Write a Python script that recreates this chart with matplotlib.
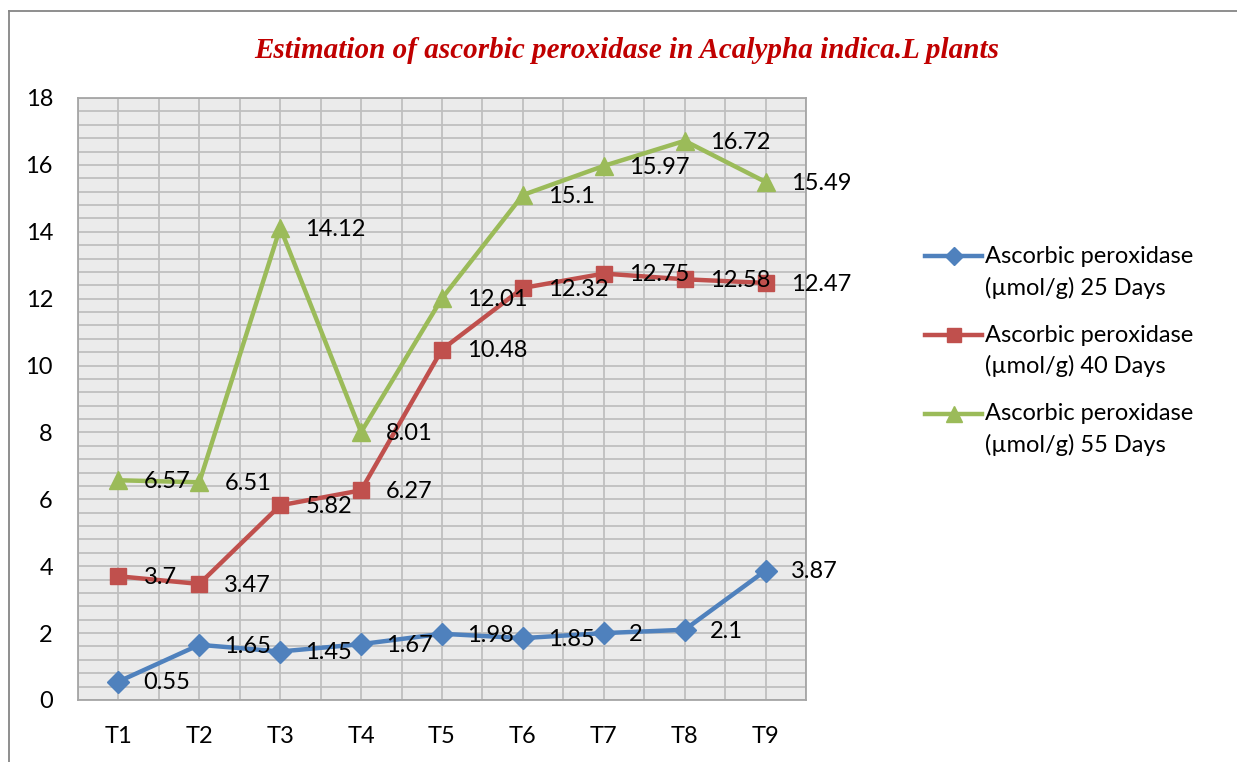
import matplotlib
matplotlib.use("Agg")
import matplotlib.pyplot as plt
from matplotlib.ticker import MultipleLocator
from matplotlib.lines import Line2D
from matplotlib.legend_handler import HandlerLine2D

categories = ["T1", "T2", "T3", "T4", "T5", "T6", "T7", "T8", "T9"]
days25 = [0.55, 1.65, 1.45, 1.67, 1.98, 1.85, 2, 2.1, 3.87]
days40 = [3.7, 3.47, 5.82, 6.27, 10.48, 12.32, 12.75, 12.58, 12.47]
days55 = [6.57, 6.51, 14.12, 8.01, 12.01, 15.1, 15.97, 16.72, 15.49]
series_labels = ["Ascorbic peroxidase\n(\u00b5mol/g) 25 Days",
                 "Ascorbic peroxidase\n(\u00b5mol/g) 40 Days",
                 "Ascorbic peroxidase\n(\u00b5mol/g) 55 Days"]
yticks = [0, 2, 4, 6, 8, 10, 12, 14, 16, 18]

plt.rcParams['font.family'] = ['Lato', 'DejaVu Sans']

W, H = 1237, 762
fig = plt.figure(figsize=(W / 100, H / 100), dpi=100)
ax = fig.add_axes([78 / W, 1 - 700 / H, (806 - 78) / W, (700 - 98) / H])
ax.set_facecolor("#EBEBEB")

x = list(range(1, len(categories) + 1))
styles = [("#4F81BD", "D", 11), ("#C0504D", "s", 12), ("#9BBB59", "^", 13)]
for vals, lab, (col, mk, ms) in zip([days25, days40, days55], series_labels, styles):
    ax.plot(x, vals, color=col, lw=3.2, marker=mk, ms=ms, label=lab, zorder=3,
            solid_capstyle='round')
    for xi, v in zip(x, vals):
        ax.annotate(f"{v:g}", (xi, v), xytext=(18, -1), textcoords="offset points",
                    ha="left", va="center", fontsize=17, color="black", zorder=4)

ax.set_xlim(0.5, 9.5)
ax.set_ylim(0, 18)
ax.set_yticks(yticks)
ax.set_xticks(x)
ax.set_xticklabels(categories)
ax.yaxis.set_minor_locator(MultipleLocator(0.4))
ax.xaxis.set_minor_locator(MultipleLocator(0.5))
ax.grid(which="both", color="#BFBFBF", lw=1.3, zorder=0)
ax.set_axisbelow(True)
ax.tick_params(which="both", length=0)
ax.tick_params(axis="y", pad=18, labelsize=17)
ax.tick_params(axis="x", pad=19, labelsize=17)
for s in ax.spines.values():
    s.set_color("#A6A6A6")
    s.set_linewidth(1.3)

fig.text(627 / W, 1 - 50 / H, "Estimation of ascorbic peroxidase in Acalypha indica.L plants",
         ha="center", va="center", fontsize=21, fontweight="bold", fontstyle="italic",
         color="#C00000", family="Liberation Serif")


class UpHandler(HandlerLine2D):
    shift = 11.5

    def create_artists(self, legend, orig_handle, xdescent, ydescent, width, height,
                       fontsize, trans):
        arts = super().create_artists(legend, orig_handle, xdescent, ydescent, width,
                                      height, fontsize, trans)
        for a in arts:
            a.set_ydata([y + self.shift for y in a.get_ydata()])
        return arts


handles = [Line2D([], [], color=c, lw=3.2, marker=m, ms=s * 0.85) for c, m, s in styles]
leg = fig.legend(handles, series_labels, loc="center left",
                 bbox_to_anchor=(904 / W, 1 - 351 / H), frameon=False,
                 fontsize=17, handlelength=2.4, labelspacing=1.1, handletextpad=0.15,
                 handler_map={Line2D: UpHandler()})
for t in leg.get_texts():
    t.set_linespacing(1.54)

# outer chart border
fig.add_artist(Line2D([9 / W, 9 / W], [0, 1 - 11 / H], transform=fig.transFigure,
                      color="#868686", lw=1.3))
fig.add_artist(Line2D([9 / W, 1], [1 - 11 / H, 1 - 11 / H], transform=fig.transFigure,
                      color="#868686", lw=1.3))

fig.savefig("out.png", dpi=100)
